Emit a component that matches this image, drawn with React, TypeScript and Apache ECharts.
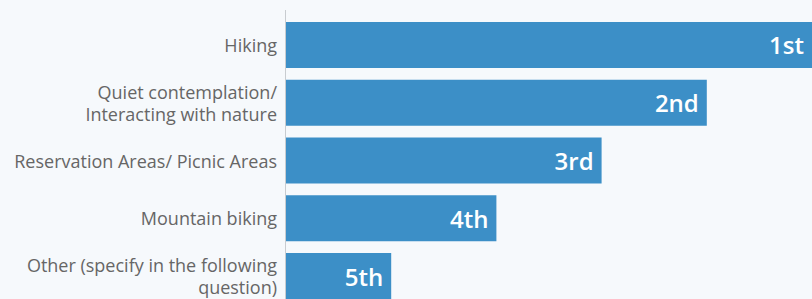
import React, { useEffect, useRef } from "react";
import * as echarts from "echarts";

const categories = [
  "Hiking",
  "Quiet contemplation/\nInteracting with nature",
  "Reservation Areas/ Picnic Areas",
  "Mountain biking",
  "Other (specify in the following\nquestion)",
];
const scores = [5, 4, 3, 2, 1];
const rankLabels = ["1st", "2nd", "3rd", "4th", "5th"];

export default function App() {
  const ref = useRef<HTMLDivElement>(null);
  useEffect(() => {
    if (!ref.current) return;
    const chart = echarts.init(ref.current, null, { renderer: "svg" });
    chart.setOption({
      animation: false,
      backgroundColor: "#f6f9fc",
      grid: { left: 286, right: -2, top: 16, bottom: 5 },
      xAxis: {
        type: "value",
        min: 0,
        max: 5,
        show: false,
      },
      yAxis: {
        type: "category",
        inverse: true,
        data: categories,
        axisLine: { show: false },
        axisTick: { show: false },
        axisLabel: {
          margin: 9,
          color: "#666",
          fontFamily: "Open Sans",
          fontSize: 18,
          lineHeight: 22,
          padding: [0, 0, 3, 0],
        },
      },
      graphic: [
        {
          type: "line",
          shape: { x1: 285.5, y1: 10, x2: 285.5, y2: 310 },
          style: { stroke: "#c8ccd0", lineWidth: 1 },
          z: 10,
        },
      ],
      series: [
        {
          type: "bar",
          data: scores,
          barWidth: 46,
          itemStyle: { color: "#3c8fc7" },
          label: {
            show: true,
            position: "insideRight",
            distance: 8,
            color: "#ffffff",
            fontFamily: "Open Sans",
            fontSize: 24,
            fontWeight: 600,
            formatter: (p: any) => rankLabels[p.dataIndex],
          },
        },
      ],
    });
    return () => chart.dispose();
  }, []);
  return (
    <div
      ref={ref}
      style={{ position: "fixed", left: 0, top: 0, width: 812, height: 310 }}
    />
  );
}
